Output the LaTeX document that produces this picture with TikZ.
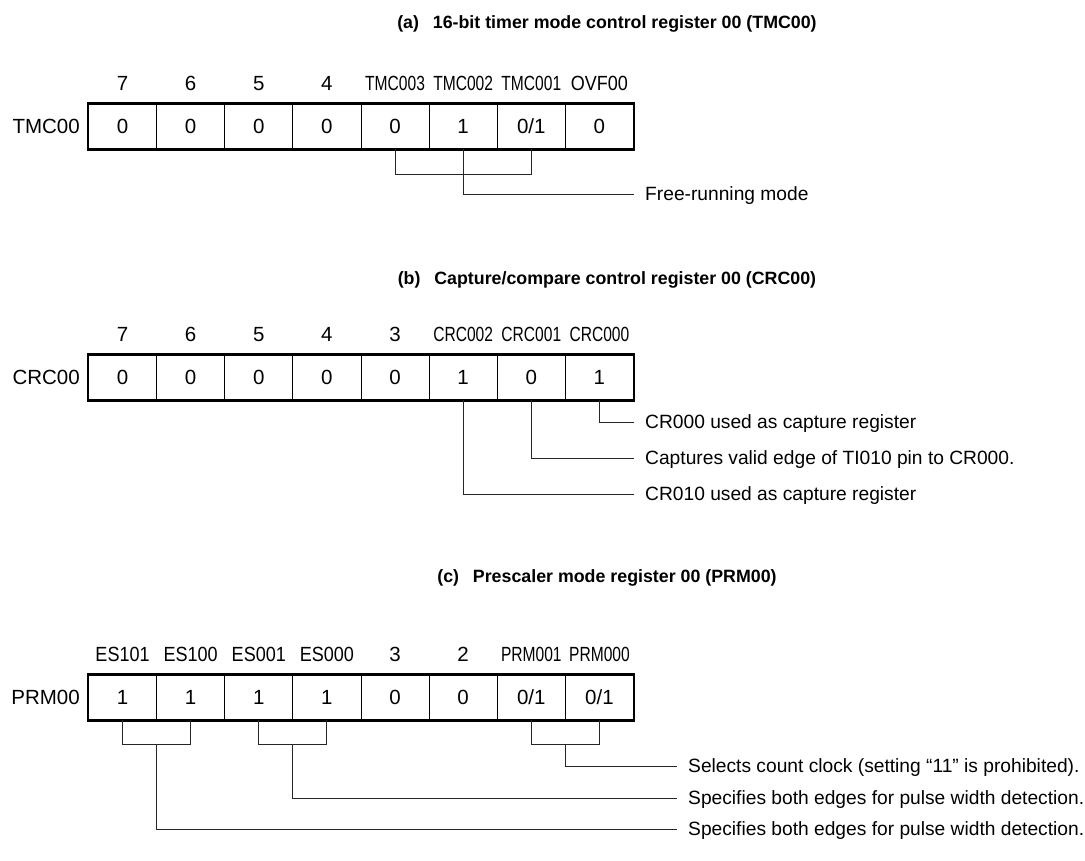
\documentclass[tikz,border=0pt]{standalone}
\usepackage{fontspec}
\setmainfont{Liberation Sans}
\usepackage{graphicx}
\usetikzlibrary{calc}
\newcommand\bodyf{\fontsize{20.5}{24}\selectfont}
\newcommand\descf{\fontsize{19.2}{23}\selectfont}
\newcommand\titlef{\fontsize{17.8}{22}\selectfont\bfseries}
\newcommand\nar[1]{\scalebox{0.76}[1]{#1}}
\newcommand\semi[1]{\scalebox{0.88}[1]{#1}}
\begin{document}
\begin{tikzpicture}[x=1pt,y=-1pt,
  cell/.style={draw, line width=0.9pt, minimum width=68.125pt, minimum height=45pt, inner sep=0pt, font=\bodyf, anchor=center},
  bitlbl/.style={font=\bodyf, inner sep=0pt, anchor=base},
  reglbl/.style={font=\bodyf, inner sep=0pt, anchor=base east},
  ttl/.style={font=\titlef, inner sep=0pt, anchor=base},
  desc/.style={font=\descf, inner sep=0pt, anchor=base west},
  frame/.style={line width=2.4pt},
  conn/.style={line width=0.9pt, black!85}]
\useasboundingbox (0,0) rectangle (1085,861);

% ---------- (a) ----------
\node[ttl] (ta) at (607,28.5) {(a)\hspace{0.5em} 16-bit timer mode control register 00 (TMC00)};
\foreach \v [count=\i] in {0,0,0,0,0,1,{0/1},0}
  \node[cell] (a\i) at ({88.5+68.125*(\i-0.5)},126.5) {\v};
\draw[frame] (a1.north west) rectangle (a8.south east);
\node[reglbl] (ra) at (80,133.8) {TMC00};
\foreach \t [count=\i] in {7,6,5,4,\nar{TMC003},\nar{TMC002},\nar{TMC001},\semi{OVF00}}
  \node[bitlbl] (la\i) at ({88.5+68.125*(\i-0.5)},90.5) {\t};
\node[desc] (da1) at (645,200.5) {Free-running mode};
\draw[conn] (a5.south) -- ++(0,25) -| (a7.south);
\draw[conn] (a6.south) |- ($(da1.base west)+(-11.5,-6.5)$);

% ---------- (b) ----------
\node[ttl] (tb) at (607,284.5) {(b)\hspace{0.5em} Capture/compare control register 00 (CRC00)};
\foreach \v [count=\i] in {0,0,0,0,0,1,0,1}
  \node[cell] (b\i) at ({88.5+68.125*(\i-0.5)},377.5) {\v};
\draw[frame] (b1.north west) rectangle (b8.south east);
\node[reglbl] (rb) at (80,384.8) {CRC00};
\foreach \t [count=\i] in {7,6,5,4,3,\nar{CRC002},\nar{CRC001},\nar{CRC000}}
  \node[bitlbl] (lb\i) at ({88.5+68.125*(\i-0.5)},341.5) {\t};
\node[desc] (db1) at (645,428.5) {CR000 used as capture register};
\node[desc] (db2) at (645,464.5) {Captures valid edge of TI010 pin to CR000.};
\node[desc] (db3) at (645,500.5) {CR010 used as capture register};
\draw[conn] (b8.south) |- ($(db1.base west)+(-11.5,-6.5)$);
\draw[conn] (b7.south) |- ($(db2.base west)+(-11.5,-6.5)$);
\draw[conn] (b6.south) |- ($(db3.base west)+(-11.5,-6.5)$);

% ---------- (c) ----------
\node[ttl] (tc) at (607,582) {(c)\hspace{0.5em} Prescaler mode register 00 (PRM00)};
\foreach \v [count=\i] in {1,1,1,1,0,0,{0/1},{0/1}}
  \node[cell] (c\i) at ({88.5+68.125*(\i-0.5)},697.5) {\v};
\draw[frame] (c1.north west) rectangle (c8.south east);
\node[reglbl] (rc) at (80,704.8) {PRM00};
\foreach \t [count=\i] in {\semi{ES101},\semi{ES100},\semi{ES001},\semi{ES000},3,2,\nar{PRM001},\nar{PRM000}}
  \node[bitlbl] (lc\i) at ({88.5+68.125*(\i-0.5)},661.5) {\t};
\node[desc] (dc1) at (688,772.5) {Selects count clock (setting “11” is prohibited).};
\node[desc] (dc2) at (688,804.5) {Specifies both edges for pulse width detection.};
\node[desc] (dc3) at (688,835.5) {Specifies both edges for pulse width detection.};
\draw[conn] (c1.south) -- ++(0,24) coordinate (k1) -| (c2.south);
\draw[conn] (c3.south) -- ++(0,24) coordinate (k3) -| (c4.south);
\draw[conn] (c7.south) -- ++(0,24) coordinate (k7) -| (c8.south);
\coordinate (m1) at ($(k1)!0.5!(c2.south |- k1)$);
\coordinate (m3) at ($(k3)!0.5!(c4.south |- k3)$);
\coordinate (m7) at ($(k7)!0.5!(c8.south |- k7)$);
\draw[conn] (m7) |- ($(dc1.base west)+(-11.5,-6.5)$);
\draw[conn] (m3) |- ($(dc2.base west)+(-11.5,-6.5)$);
\draw[conn] (m1) |- ($(dc3.base west)+(-11.5,-6.5)$);
\end{tikzpicture}
\end{document}
